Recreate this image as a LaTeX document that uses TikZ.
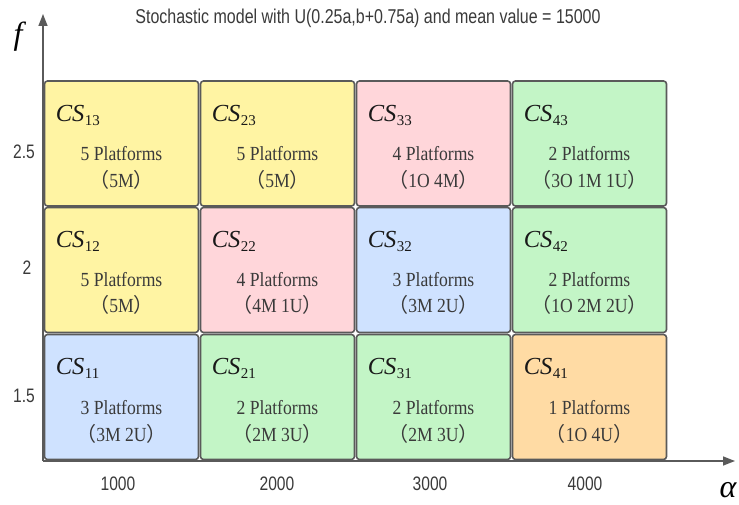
\documentclass[tikz,border=0pt]{standalone}
\usepackage{fontspec}
\setmainfont{Liberation Serif}[FakeStretch=0.88]
\newfontfamily\csfont{Liberation Serif}
\newfontfamily\titlefont{Liberation Sans}[FakeStretch=0.8]
\newfontfamily\cjk{Noto Sans CJK SC}
\usetikzlibrary{arrows.meta}
\definecolor{cyel}{HTML}{FFF4A3}
\definecolor{cpink}{HTML}{FFD6DA}
\definecolor{cblue}{HTML}{CFE2FF}
\definecolor{cgreen}{HTML}{C3F5C6}
\definecolor{corange}{HTML}{FFDBA4}
\definecolor{cline}{HTML}{5A5A5A}
\definecolor{ctext}{HTML}{3A3A3A}
\newcommand{\lp}{{\cjk （}}
\newcommand{\rp}{{\cjk ）}}
\newcommand{\cslabel}[1]{{\csfont\itshape\fontsize{24.5}{26}\selectfont CS}\kern0.5pt\raisebox{-4pt}{\csfont\fontsize{15}{16}\selectfont #1}}
\begin{document}
\begin{tikzpicture}[x=1pt,y=-1pt,
  cell/.style={draw=cline,line width=1.6pt,rounded corners=3pt,minimum width=154pt,minimum height=125pt,inner sep=0pt},
  cslab/.style={anchor=base west,inner sep=0pt,text=black!90},
  plat/.style={font=\fontsize{20}{22}\selectfont,text=ctext,inner sep=0pt,anchor=base},
  tick/.style={font=\titlefont\fontsize{19.5}{21}\selectfont,text=ctext,inner sep=0pt},
  axis/.style={draw=cline,line width=1.4pt,-{Triangle[length=12pt,width=9pt]}}]
\useasboundingbox (0,0) rectangle (739,505);
% cells
\foreach \i/\cx in {1/121.5,2/277.5,3/433.5,4/589.5}{
  \foreach \j/\cy in {1/397,2/270,3/143.5}{
    \coordinate (p\i\j) at (\cx,\cy);
  }
}
\node[cell,fill=cyel]    (c13) at (p13) {};
\node[cell,fill=cyel]    (c23) at (p23) {};
\node[cell,fill=cpink]   (c33) at (p33) {};
\node[cell,fill=cgreen]  (c43) at (p43) {};
\node[cell,fill=cyel]    (c12) at (p12) {};
\node[cell,fill=cpink]   (c22) at (p22) {};
\node[cell,fill=cblue]   (c32) at (p32) {};
\node[cell,fill=cgreen]  (c42) at (p42) {};
\node[cell,fill=cblue]   (c11) at (p11) {};
\node[cell,fill=cgreen]  (c21) at (p21) {};
\node[cell,fill=cgreen]  (c31) at (p31) {};
\node[cell,fill=corange] (c41) at (p41) {};
% labels
\foreach \i in {1,2,3,4}{
  \foreach \j in {1,2,3}{
    \node[cslab] (l\i\j) at ([xshift=12pt,yshift=-41pt]c\i\j.north west) {\cslabel{\i\j}};
  }
}
% texts
\node[plat] (t13a) at ([yshift=-80pt]c13.north) {5 Platforms};
\node[plat] (t13b) at ([yshift=-107pt]c13.north) {\lp5M\rp};
\node[plat] (t23a) at ([yshift=-80pt]c23.north) {5 Platforms};
\node[plat] (t23b) at ([yshift=-107pt]c23.north) {\lp5M\rp};
\node[plat] (t33a) at ([yshift=-80pt]c33.north) {4 Platforms};
\node[plat] (t33b) at ([yshift=-107pt]c33.north) {\lp1O 4M\rp};
\node[plat] (t43a) at ([yshift=-80pt]c43.north) {2 Platforms};
\node[plat] (t43b) at ([yshift=-107pt]c43.north) {\lp3O 1M 1U\rp};
\node[plat] (t12a) at ([yshift=-80pt]c12.north) {5 Platforms};
\node[plat] (t12b) at ([yshift=-106pt]c12.north) {\lp5M\rp};
\node[plat] (t22a) at ([yshift=-80pt]c22.north) {4 Platforms};
\node[plat] (t22b) at ([yshift=-106pt]c22.north) {\lp4M 1U\rp};
\node[plat] (t32a) at ([yshift=-80pt]c32.north) {3 Platforms};
\node[plat] (t32b) at ([yshift=-106pt]c32.north) {\lp3M 2U\rp};
\node[plat] (t42a) at ([yshift=-80pt]c42.north) {2 Platforms};
\node[plat] (t42b) at ([yshift=-106pt]c42.north) {\lp1O 2M 2U\rp};
\node[plat] (t11a) at ([yshift=-81pt]c11.north) {3 Platforms};
\node[plat] (t11b) at ([yshift=-108pt]c11.north) {\lp3M 2U\rp};
\node[plat] (t21a) at ([yshift=-81pt]c21.north) {2 Platforms};
\node[plat] (t21b) at ([yshift=-108pt]c21.north) {\lp2M 3U\rp};
\node[plat] (t31a) at ([yshift=-81pt]c31.north) {2 Platforms};
\node[plat] (t31b) at ([yshift=-108pt]c31.north) {\lp2M 3U\rp};
\node[plat] (t41a) at ([yshift=-81pt]c41.north) {1 Platforms};
\node[plat] (t41b) at ([yshift=-108pt]c41.north) {\lp1O 4U\rp};
% axes
\coordinate (o) at (43,461);
\coordinate (xe) at (735,461);
\coordinate (ye) at (43,14);
\draw[axis] (o) -- (xe);
\draw[axis] (o) -- (ye);
\node[font=\csfont\itshape\fontsize{32}{34}\selectfont,inner sep=0pt] (fl) at (18,37) {f};
\node[font=\csfont\itshape\fontsize{32}{34}\selectfont,inner sep=0pt] (al) at (728,490) {α};
\node[tick] (y1) at (24,152) {2.5};
\node[tick] (y2) at (27,268) {2};
\node[tick] (y3) at (24,396) {1.5};
\node[tick] (x1) at (118,484) {1000};
\node[tick] (x2) at (277,484) {2000};
\node[tick] (x3) at (430,484) {3000};
\node[tick] (x4) at (585,484) {4000};
\node[font=\titlefont\fontsize{20}{22}\selectfont,text=ctext,inner sep=0pt] (title) at (368,18) {Stochastic model with U(0.25a,b+0.75a) and mean value = 15000};
\end{tikzpicture}
\end{document}
